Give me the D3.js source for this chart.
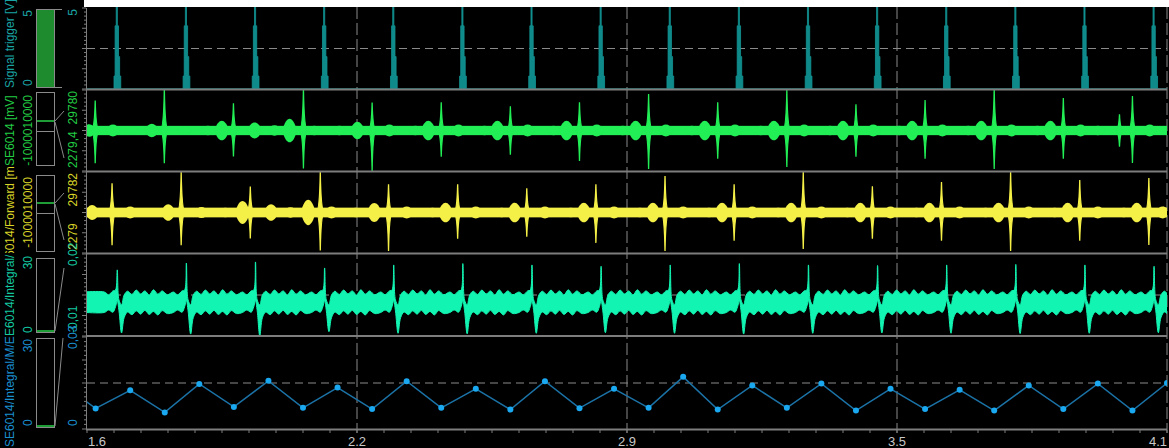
<!DOCTYPE html>
<html><head><meta charset="utf-8">
<script src="https://cdn.jsdelivr.net/npm/d3@7"></script>
<style>
html,body{margin:0;padding:0;background:#000;}
svg{display:block;}
text{font-family:"Liberation Sans",Arial,sans-serif;}
</style></head><body>
<svg id="chart" width="1169" height="448"></svg>
<script>
// ---------------- DATA ----------------
const xDomain = [1.6, 4.1];
const xMajor = [1.6, 2.225, 2.85, 3.475, 4.1];
const xMajorLabels = ["1.6", "2.2", "2.9", "3.5", "4.1"];

const panelNames = ["Signal trigger [V]", "SE6014 [mV]", "SE6014/Forward [mV]", "SE6014/Integral/M", "SE6014/Integral/M/E"];
const leftScale = ["", "-1000010000", "-1000010000", "", ""];
const leftTop = ["5", "", "", "30", "30"];
const leftBottom = ["0", "", "", "0", "0"];
const rightTop = ["5", "29780", "29782", "0,02", "0,03"];
const rightBottom = ["", "2279,4", "2279", "-0,01", "0"];

// trigger pulses
const trigT = [1.669, 1.829, 1.989, 2.149, 2.309, 2.469, 2.629, 2.789, 2.949, 3.109, 3.269, 3.429, 3.589, 3.749, 3.909, 4.069];
const trigPulse = [0, 0.8, 3.9, 5.2, 3.9, 2.0, 0.8, 0];

// SE6014 [mV] (green)
const greenSpikeT = [1.619, 1.779, 1.939, 2.101, 2.260, 2.420, 2.580, 2.740, 2.900, 3.060, 3.220, 3.380, 3.540, 3.700, 3.860, 3.990, 4.020];
const greenSpikeUp = [7400, 10500, 6700, 10500, 6900, 7000, 6000, 7000, 9000, 7000, 10000, 6500, 7500, 10500, 8000, 4000, 8500];
const greenSpikeDown = [8100, 8100, 6400, 9400, 10000, 6500, 6000, 7500, 9500, 7000, 9000, 6500, 7000, 9500, 7000, 4000, 8000];
const greenBlobT = [1.605, 1.660, 1.704, 1.750, 1.826, 1.880, 1.912, 1.988, 2.034, 2.069, 2.126, 2.184, 2.226, 2.30, 2.36, 2.39, 2.46, 2.52, 2.55, 2.62, 2.68, 2.71, 2.78, 2.84, 2.87, 2.94, 3.00, 3.03, 3.10, 3.16, 3.19, 3.26, 3.32, 3.35, 3.42, 3.48, 3.51, 3.58, 3.64, 3.67, 3.74, 3.80, 3.83, 3.90, 3.94, 4.06];
const greenBlobAmp = [1600, 1500, 1100, 1700, 1000, 1200, 2500, 2000, 1300, 3000, 1200, 1200, 2200, 1500, 1200, 2500, 1500, 1200, 2500, 1500, 1200, 2500, 1500, 1200, 2500, 1500, 1200, 2500, 1500, 1200, 2500, 1500, 1200, 2500, 1500, 1200, 2500, 1500, 1200, 2500, 1500, 1200, 2500, 1500, 1200, 1500];

// SE6014/Forward [mV] (yellow)
const yellowSpikeT = [1.658, 1.818, 1.978, 2.140, 2.298, 2.458, 2.618, 2.778, 2.938, 3.098, 3.258, 3.418, 3.578, 3.738, 3.898, 4.058];
const yellowSpikeUp = [7200, 10000, 6400, 10000, 7000, 7000, 6000, 7000, 9000, 7000, 10000, 6500, 7500, 10000, 8000, 8500];
const yellowSpikeDown = [8100, 8100, 6400, 9400, 9500, 6500, 6000, 7500, 9500, 7000, 9000, 6500, 7000, 9500, 7000, 8000];
const yellowBlobT = [1.612, 1.700, 1.742, 1.788, 1.865, 1.920, 1.960, 2.026, 2.071, 2.112, 2.166, 2.222, 2.265, 2.34, 2.40, 2.43, 2.50, 2.56, 2.59, 2.66, 2.72, 2.75, 2.82, 2.88, 2.91, 2.98, 3.04, 3.07, 3.14, 3.20, 3.23, 3.30, 3.36, 3.39, 3.46, 3.52, 3.55, 3.62, 3.68, 3.71, 3.78, 3.84, 3.87, 3.94, 4.00, 4.03, 4.09];
const yellowBlobAmp = [1900, 1500, 1100, 2100, 1400, 1200, 2900, 2100, 1300, 3200, 1500, 1200, 2400, 1500, 1200, 2500, 1500, 1200, 2500, 1500, 1200, 2500, 1500, 1200, 2500, 1500, 1200, 2500, 1500, 1200, 2500, 1500, 1200, 2500, 1500, 1200, 2500, 1500, 1200, 2500, 1500, 1200, 2500, 1500, 1200, 2500, 1500];

// SE6014/Integral (cyan-green)
const integT = [1.670, 1.830, 1.990, 2.150, 2.310, 2.470, 2.630, 2.790, 2.950, 3.110, 3.270, 3.430, 3.590, 3.750, 3.910, 4.070];
const integPeak = [0.0142, 0.0167, 0.0171, 0.0149, 0.016, 0.0165, 0.016, 0.0155, 0.016, 0.0165, 0.016, 0.0158, 0.016, 0.0162, 0.016, 0.0155];
const integDip = [-0.0089, -0.0093, -0.0100, -0.0084, -0.009, -0.0092, -0.009, -0.0088, -0.009, -0.0093, -0.009, -0.0089, -0.009, -0.0091, -0.009, -0.0088];
const integBase = 0.0024;

// SE6014/Integral/M/E (blue points)
const pmT = [1.54, 1.62, 1.70, 1.78, 1.86, 1.94, 2.02, 2.10, 2.18, 2.26, 2.34, 2.42, 2.50, 2.58, 2.66, 2.74, 2.82, 2.90, 2.98, 3.06, 3.14, 3.22, 3.30, 3.38, 3.46, 3.54, 3.62, 3.70, 3.78, 3.86, 3.94, 4.02, 4.10];
const pmV = [15.0, 6.7, 12.6, 5.4, 14.7, 7.2, 15.7, 6.9, 13.5, 6.5, 15.6, 6.9, 13.1, 6.35, 15.6, 6.8, 13.1, 6.9, 17.0, 6.35, 14.2, 6.9, 14.8, 6.0, 13.1, 6.5, 12.8, 6.0, 14.2, 6.5, 14.8, 6.0, 15.0];

// ---------------- STYLE / LAYOUT ----------------
const C = {
  grid: "#8a8a8a", sep: "#7d7d7d",
  teal: "#0f8a8a", tealText: "#1aa3a3",
  green: "#22ee55", greenText: "#22cc44",
  yellow: "#f5f048", yellowText: "#d8d428",
  cyan: "#12f5b2", cyanText: "#14c8a0",
  blueLine: "#1b72a6", bluePt: "#1aa8f0", blueText: "#1a8fd0",
  axisText: "#c8c8c8"
};
const panels = [
  {top: 8, bottom: 89, domain: [0, 5], text: C.tealText, nameY: 88, lclip: [0, 89]},
  {top: 90, bottom: 171, domain: [-10000, 10000], text: C.greenText, nameY: 166, lclip: [90, 171]},
  {top: 172, bottom: 253, domain: [-10000, 10000], text: C.yellowText, nameY: 273, lclip: [167, 253]},
  {top: 254, bottom: 336, domain: [-0.01, 0.02], text: C.cyanText, nameY: 344, lclip: [254, 336]},
  {top: 337, bottom: 429, domain: [0, 30], text: C.blueText, nameY: 447, lclip: [333, 448]}
];
const X0 = 87, X1 = 1167;

const svg = d3.select("#chart");
svg.append("rect").attr("width", 1169).attr("height", 448).attr("fill", "#000");
svg.append("rect").attr("x", 84).attr("y", 0).attr("width", 1085).attr("height", 7).attr("fill", "#fff");

const x = d3.scaleLinear().domain(xDomain).range([X0, X1]);
panels.forEach((p, i) => {
  p.y = d3.scaleLinear().domain(p.domain).range([p.bottom, p.top]);
  const cp = svg.append("clipPath").attr("id", "clip" + i);
  cp.append("rect").attr("x", X0).attr("y", p.top - 1).attr("width", X1 - X0).attr("height", p.bottom - p.top + 1);
  const lc = svg.append("clipPath").attr("id", "lclip" + i);
  lc.append("rect").attr("x", 0).attr("y", p.lclip[0]).attr("width", 20).attr("height", p.lclip[1] - p.lclip[0]);
});

// grid: horizontal dashed mid lines
const gridG = svg.append("g");
panels.forEach(p => {
  const mid = (p.domain[0] + p.domain[1]) / 2;
  gridG.append("line").attr("x1", X0).attr("x2", X1).attr("y1", p.y(mid)).attr("y2", p.y(mid))
    .attr("stroke", C.grid).attr("stroke-dasharray", "8,5").attr("stroke-width", 1);
});
xMajor.slice(1).forEach(v => {
  gridG.append("line").attr("x1", x(v)).attr("x2", x(v)).attr("y1", 7).attr("y2", 433)
    .attr("stroke", C.grid).attr("stroke-dasharray", "12,4").attr("stroke-width", 1);
});

// ---- panel 1: trigger
{
  const p = panels[0];
  const g = svg.append("g").attr("clip-path", "url(#clip0)");
  const dt = 0.0026;
  const pts = [[xDomain[0], 0]];
  trigT.forEach(t => {
    trigPulse.forEach((v, k) => pts.push([t + (k - 3.5) * dt, v]));
  });
  pts.push([xDomain[1], 0]);
  const area = d3.area().x(d => x(d[0])).y0(p.y(0)).y1(d => p.y(d[1])).curve(d3.curveStepAfter);
  g.append("path").attr("d", area(pts)).attr("fill", C.teal).attr("stroke", "#139494").attr("stroke-width", 0.8);
}

// ---- generic burst signal
function burstSignal(pi, spikeT, up, down, blobT, blobAmp, floor, color) {
  const p = panels[pi];
  const g = svg.append("g").attr("clip-path", `url(#clip${pi})`);
  const y0 = p.y(0);
  g.append("rect").attr("x", X0).attr("width", X1 - X0)
    .attr("y", p.y(floor)).attr("height", p.y(-floor) - p.y(floor)).attr("fill", color);
  blobT.forEach((t, k) => {
    const cx = x(t), hw = x(t + 0.017) - cx;
    const a = p.y(0) - p.y(blobAmp[k]);
    const d = `M${cx - hw},${y0} C${cx - hw * 0.45},${y0 - a * 1.3} ${cx + hw * 0.45},${y0 - a * 1.3} ${cx + hw},${y0} C${cx + hw * 0.45},${y0 + a * 1.3} ${cx - hw * 0.45},${y0 + a * 1.3} ${cx - hw},${y0}Z`;
    g.append("path").attr("d", d).attr("fill", color);
  });
  spikeT.forEach((t, k) => {
    const cx = x(t), hw = x(t + 0.010) - cx;
    const yu = p.y(up[k]), yd = p.y(-down[k]);
    const d = `M${cx - hw},${y0} Q${cx - hw * 0.15},${y0} ${cx},${yu} Q${cx + hw * 0.15},${y0} ${cx + hw},${y0} Q${cx + hw * 0.15},${y0} ${cx},${yd} Q${cx - hw * 0.15},${y0} ${cx - hw},${y0}Z`;
    g.append("path").attr("d", d).attr("fill", color).attr("stroke", color).attr("stroke-width", 1.3);
  });
}
burstSignal(1, greenSpikeT, greenSpikeUp, greenSpikeDown, greenBlobT, greenBlobAmp, 1150, C.green);
burstSignal(2, yellowSpikeT, yellowSpikeUp, yellowSpikeDown, yellowBlobT, yellowBlobAmp, 1200, C.yellow);

// ---- panel 4: integral band
{
  const p = panels[3];
  const g = svg.append("g").attr("clip-path", "url(#clip3)");
  const hw = 0.0032, b = integBase;
  const pts = [[1.55, b + hw, b - hw]];
  integT.forEach((t, k) => {
    pts.push(
      [t - 0.030, b + hw + 0.0005, b - hw - 0.0006],
      [t - 0.020, b + hw - 0.0005, b - hw + 0.0003],
      [t - 0.010, b + hw + 0.0009, b - hw - 0.0005],
      [t - 0.004, b + hw + 0.0012, b - hw + 0.0015],
      [t, integPeak[k], b + 0.0005],
      [t + 0.004, b + 0.0008, b - hw],
      [t + 0.010, b - 0.0010, integDip[k]],
      [t + 0.016, b + hw - 0.0006, b - hw - 0.0025],
      [t + 0.024, b + hw + 0.0008, b - hw - 0.0004],
      [t + 0.034, b + hw - 0.0004, b - hw - 0.0014],
      [t + 0.044, b + hw + 0.0012, b - hw],
      [t + 0.054, b + hw - 0.0002, b - hw - 0.0012],
      [t + 0.064, b + hw + 0.0009, b - hw + 0.0002],
      [t + 0.074, b + hw - 0.0006, b - hw - 0.0013],
      [t + 0.084, b + hw + 0.0013, b - hw - 0.0002],
      [t + 0.094, b + hw - 0.0003, b - hw - 0.0015],
      [t + 0.104, b + hw + 0.0009, b - hw + 0.0001],
      [t + 0.116, b + hw - 0.0005, b - hw - 0.0010]);
  });
  pts.push([4.15, b + hw, b - hw]);
  const area = d3.area().x(d => x(d[0])).y0(d => p.y(d[2])).y1(d => p.y(d[1])).curve(d3.curveCatmullRom);
  g.append("path").attr("d", area(pts)).attr("fill", C.cyan).attr("stroke", C.cyan).attr("stroke-width", 1);
}

// ---- panel 5: points
{
  const p = panels[4];
  const g = svg.append("g").attr("clip-path", "url(#clip4)");
  const data = pmT.map((t, k) => [t, pmV[k]]);
  g.append("path").attr("d", d3.line().x(d => x(d[0])).y(d => p.y(d[1]))(data))
    .attr("fill", "none").attr("stroke", C.blueLine).attr("stroke-width", 1.5);
  g.selectAll("circle").data(data).join("circle")
    .attr("cx", d => x(d[0])).attr("cy", d => p.y(d[1])).attr("r", 3).attr("fill", C.bluePt);
}

// ---- separators
[89.5, 171.5, 253.5, 336].forEach(yy => {
  svg.append("line").attr("x1", X0 - 1).attr("x2", X1).attr("y1", yy).attr("y2", yy)
    .attr("stroke", C.sep).attr("stroke-width", 2);
});

// ---- x axis
const axG = svg.append("g");
axG.append("line").attr("x1", X0 - 1).attr("x2", X1).attr("y1", 429.5).attr("y2", 429.5).attr("stroke", C.sep).attr("stroke-width", 2);
d3.range(0, 41).map(k => xDomain[0] + k * 0.0625).forEach(v => {
  axG.append("line").attr("x1", x(v)).attr("x2", x(v)).attr("y1", 430).attr("y2", 433).attr("stroke", C.sep).attr("stroke-width", 1);
});
xMajor.forEach((v, k) => {
  axG.append("text").attr("x", x(v) + (k === 0 ? 1 : 0)).attr("y", 446)
    .attr("text-anchor", k === 0 ? "start" : (k === xMajor.length - 1 ? "end" : "middle"))
    .attr("fill", C.axisText).attr("font-size", 13).text(xMajorLabels[k]);
});

// ---- left y axes with minor ticks
panels.forEach(p => {
  axG.append("line").attr("x1", X0 - 0.5).attr("x2", X0 - 0.5).attr("y1", p.top).attr("y2", p.bottom).attr("stroke", C.sep).attr("stroke-width", 1);
  const ticks = d3.range(0, 21).map(k => p.domain[0] + k * (p.domain[1] - p.domain[0]) / 20);
  ticks.forEach((v, k) => {
    const len = k % 5 === 0 ? 4 : 2;
    axG.append("line").attr("x1", X0 - 1 - len).attr("x2", X0 - 1).attr("y1", p.y(v)).attr("y2", p.y(v))
      .attr("stroke", C.sep).attr("stroke-width", 1);
  });
});

// ---- left decorations
function rotText(g, tx, ty, str, color, anchor, size) {
  g.append("text").attr("transform", `translate(${tx},${ty}) rotate(-90)`)
    .attr("text-anchor", anchor).attr("fill", color).attr("font-size", size || 12).text(str);
}
const leftG = svg.append("g");
panels.forEach((p, i) => {
  const lg = leftG.append("g").attr("clip-path", `url(#lclip${i})`);
  rotText(lg, 14, p.nameY, panelNames[i], p.text, "start", 12);
  if (leftScale[i]) rotText(leftG, 32, (p.top + p.bottom) / 2, leftScale[i], p.text, "middle", 12);
  if (leftBottom[i]) rotText(leftG, 32, p.bottom - 3, leftBottom[i], p.text, "start", 12);
  if (leftTop[i]) rotText(leftG, 32, p.top + 2, leftTop[i], p.text, "end", 12);
  if (rightTop[i]) rotText(leftG, 77, p.top + (i >= 3 ? 12 : 1), rightTop[i], p.text, i >= 3 ? "start" : "end", 12);
  if (rightBottom[i]) rotText(leftG, 77, p.bottom - 3, rightBottom[i], p.text, "start", 12);
});
// meters
const meters = [
  {y0: 9, y1: 87, fill: true},
  {y0: 92, y1: 165, mid: 131, bar: 121},
  {y0: 175, y1: 251, mid: 213, bar: 203},
  {y0: 258, y1: 332, bar: 331},
  {y0: 338, y1: 427, bar: 426}
];
meters.forEach(m => {
  leftG.append("rect").attr("x", 36.5).attr("y", m.y0 + 0.5).attr("width", 18).attr("height", m.y1 - m.y0)
    .attr("fill", m.fill ? "#1e8c2e" : "none").attr("stroke", "#8a8a8a").attr("stroke-width", 1);
  if (m.mid) leftG.append("line").attr("x1", 37).attr("x2", 54).attr("y1", m.mid + 0.5).attr("y2", m.mid + 0.5).attr("stroke", "#8a8a8a");
  if (m.bar) leftG.append("line").attr("x1", 37).attr("x2", 54).attr("y1", m.bar).attr("y2", m.bar).attr("stroke", "#1e9c36").attr("stroke-width", 2);
});
const connectors = [
  [55, 9.5, 62, 9.5], [55, 87.5, 62, 87.5],
  [55, 121, 64, 111], [55, 122, 64, 158],
  [55, 203, 64, 193], [55, 204, 64, 240],
  [55, 331, 64, 268],
  [55, 426, 63, 338]
];
connectors.forEach(c => leftG.append("line").attr("x1", c[0]).attr("y1", c[1]).attr("x2", c[2]).attr("y2", c[3]).attr("stroke", "#8a8a8a").attr("stroke-width", 1));
</script>
</body></html>
